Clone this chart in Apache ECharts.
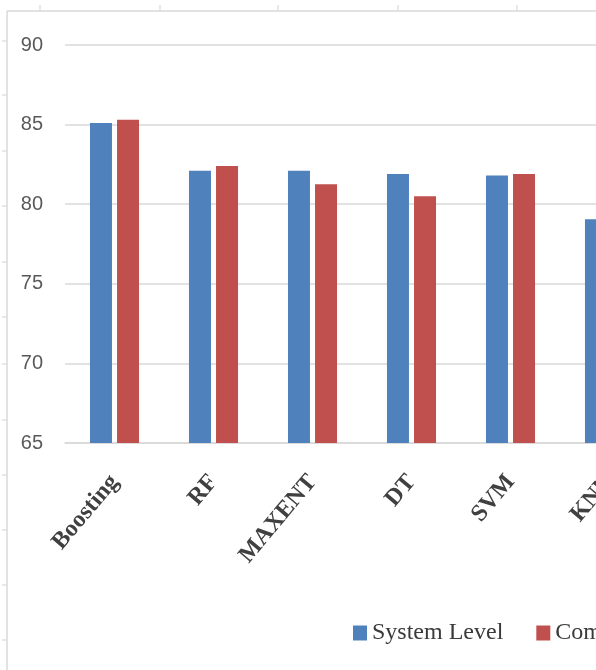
<!DOCTYPE html>
<html>
<head>
<meta charset="utf-8">
<script src="https://cdn.jsdelivr.net/npm/echarts@6/dist/echarts.min.js"></script>
<style>
html,body{margin:0;padding:0;background:#fff;overflow:hidden;width:596px;height:670px;}
#c{width:900px;height:670px;}
</style>
</head>
<body>
<div id="c"></div>
<script>
const categories = ['Boosting', 'RF', 'MAXENT', 'DT', 'SVM', 'KNN'];
const systemLevel = [85.1, 82.1, 82.1, 81.9, 81.8, 79.05];
const componentLevel = [85.3, 82.4, 81.25, 80.5, 81.9, 77.5];
const seriesNames = ['System Level', 'Component Level'];
const yMin = 65, yMax = 90, yStep = 5;

const frameColor = '#d9d9d9';
const topTicks = [40, 160, 278, 398, 517, 636];
const leftTicks = [41, 95, 151, 206, 262, 317, 364, 420, 475, 530, 585, 640];
const graphics = [
  {type:'line', shape:{x1:7, y1:11, x2:900, y2:11}, style:{stroke:frameColor, lineWidth:1.5}},
  {type:'line', shape:{x1:7, y1:11, x2:7, y2:670}, style:{stroke:frameColor, lineWidth:1.5}}
];
topTicks.forEach(x => graphics.push({type:'line', shape:{x1:x, y1:5, x2:x, y2:11}, style:{stroke:frameColor, lineWidth:1.2}}));
leftTicks.forEach(y => graphics.push({type:'line', shape:{x1:2, y1:y, x2:7, y2:y}, style:{stroke:frameColor, lineWidth:1.2}}));

const chart = echarts.init(document.getElementById('c'), null, {renderer:'canvas'});
chart.setOption({
  animation: false,
  backgroundColor: '#fff',
  graphic: graphics,
  grid: {left: 65, top: 45, width: 594, height: 398, containLabel: false},
  legend: {
    data: seriesNames,
    left: 348, top: 616, width: 540,
    itemWidth: 14, itemHeight: 15, itemGap: 33,
    icon: 'rect',
    textStyle: {fontFamily: 'Liberation Serif', fontSize: 24, color: '#3a3a3a'}
  },
  xAxis: {
    type: 'category',
    data: categories,
    axisLine: {show: true, lineStyle: {color: '#d9d9d9', width: 1.5}},
    axisTick: {show: false},
    axisLabel: {
      rotate: 50, margin: 35, interval: 0,
      fontFamily: 'Liberation Serif', fontWeight: 'bold', fontSize: 24, color: '#404040'
    }
  },
  yAxis: {
    type: 'value',
    min: yMin, max: yMax, interval: yStep,
    axisLine: {show: false},
    axisTick: {show: false},
    splitLine: {lineStyle: {color: '#d9d9d9', width: 1.5}},
    axisLabel: {margin: 22, fontFamily: 'Liberation Sans', fontSize: 20, color: '#595959'}
  },
  series: [
    {name: seriesNames[0], type: 'bar', data: systemLevel, barWidth: 22, barGap: '23%',
     itemStyle: {color: '#4f81bd'}},
    {name: seriesNames[1], type: 'bar', data: componentLevel, barWidth: 22, barGap: '23%',
     itemStyle: {color: '#c0504d'}}
  ]
});
</script>
</body>
</html>
